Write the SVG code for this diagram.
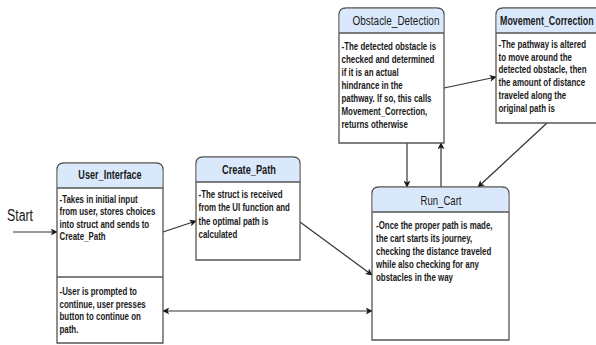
<svg xmlns="http://www.w3.org/2000/svg" width="596" height="345" viewBox="0 0 596 345">
  <defs>
    <marker id="arrow" viewBox="0 0 10 10" refX="9" refY="5" markerWidth="7" markerHeight="7" markerUnits="userSpaceOnUse" orient="auto-start-reverse">
      <path d="M0,0 L10,5 L0,10 L2.5,5 Z" fill="#1a1a1a"/>
    </marker>
  </defs>
  <style>
    .box { fill: #ffffff; stroke: #555555; stroke-width: 1.3; }
    .head { fill: #dae8fc; stroke: none; }
    .rule { stroke: #555555; stroke-width: 1.3; fill: none; }
    .title { font-family: "Liberation Sans", Arial, sans-serif; font-size: 12px; fill: #1a1a1a; text-anchor: middle; }
    .bold { font-weight: bold; }
    .body text { font-family: "Liberation Sans", Arial, sans-serif; font-size: 11px; font-weight: bold; fill: #1a1a1a; }
    .edge { stroke: #333333; stroke-width: 1.2; fill: none; }
    .label { font-family: "Liberation Sans", Arial, sans-serif; font-size: 16px; fill: #1a1a1a; }
  </style>
  <rect width="596" height="345" fill="#ffffff"/>

  <g id="connectors">
    <line class="edge" x1="13" y1="232" x2="57" y2="232" marker-end="url(#arrow)"/>
    <line class="edge" x1="163" y1="232" x2="196" y2="221" marker-end="url(#arrow)"/>
    <line class="edge" x1="300" y1="222" x2="372" y2="275" marker-end="url(#arrow)"/>
    <line class="edge" x1="163" y1="311" x2="372" y2="311" marker-start="url(#arrow)" marker-end="url(#arrow)"/>
    <line class="edge" x1="407" y1="143" x2="407" y2="187" marker-end="url(#arrow)"/>
    <line class="edge" x1="441" y1="187" x2="441" y2="143" marker-end="url(#arrow)"/>
    <line class="edge" x1="444" y1="88" x2="496" y2="77" marker-end="url(#arrow)"/>
    <line class="edge" x1="547" y1="123" x2="478" y2="187" marker-end="url(#arrow)"/>
  </g>

  <text class="label" transform="translate(7,221) scale(0.77,1)">Start</text>

  <g id="user-interface">
    <path class="box" d="M57,343 V170 Q57,163 64,163 H156 Q163,163 163,170 V343 Z"/>
    <path class="head" d="M57.7,188 V170 Q57.7,163.7 64,163.7 H156 Q162.3,163.7 162.3,170 V188 Z"/>
    <line class="rule" x1="57" y1="188" x2="163" y2="188"/>
    <line class="rule" x1="57" y1="277" x2="163" y2="277"/>
    <text class="title bold" transform="translate(110,179) scale(0.76,1)">User_Interface</text>
    <g class="body" transform="translate(59.5,0) scale(0.72,1)">
      <text y="203">-Takes in initial input</text>
      <text y="215.5">from user, stores choices</text>
      <text y="228">into struct and sends to</text>
      <text y="240.5">Create_Path</text>
      <text y="295">-User is prompted to</text>
      <text y="307.7">continue, user presses</text>
      <text y="320.4">button to continue on</text>
      <text y="333">path.</text>
    </g>
  </g>

  <g id="create-path">
    <path class="box" d="M196,260 V164 Q196,157 203,157 H293 Q300,157 300,164 V260 Z"/>
    <path class="head" d="M196.7,182 V164 Q196.7,157.7 203,157.7 H293 Q299.3,157.7 299.3,164 V182 Z"/>
    <line class="rule" x1="196" y1="182" x2="300" y2="182"/>
    <text class="title bold" transform="translate(249,174) scale(0.77,1)">Create_Path</text>
    <g class="body" transform="translate(198.5,0) scale(0.72,1)">
      <text y="198">-The struct is received</text>
      <text y="211.5">from the UI function and</text>
      <text y="225">the optimal path is</text>
      <text y="238">calculated</text>
    </g>
  </g>

  <g id="obstacle-detection">
    <path class="box" d="M339,143 V15 Q339,8 346,8 H437 Q444,8 444,15 V143 Z"/>
    <path class="head" d="M339.7,33 V15 Q339.7,8.7 346,8.7 H437 Q443.3,8.7 443.3,15 V33 Z"/>
    <line class="rule" x1="339" y1="33" x2="444" y2="33"/>
    <text class="title" transform="translate(396,25) scale(0.83,1)">Obstacle_Detection</text>
    <g class="body" transform="translate(341.5,0) scale(0.72,1)">
      <text y="50">-The detected obstacle is</text>
      <text y="63">checked and determined</text>
      <text y="76">if it is an actual</text>
      <text y="89">hindrance in the</text>
      <text y="102">pathway. If so, this calls</text>
      <text y="115">Movement_Correction,</text>
      <text y="128">returns otherwise</text>
    </g>
  </g>

  <g id="movement-correction">
    <path class="box" d="M496,123 V15 Q496,8 503,8 H610 V123 Z"/>
    <path class="head" d="M496.7,33 V15 Q496.7,8.7 503,8.7 H610 V33 Z"/>
    <line class="rule" x1="496" y1="33" x2="610" y2="33"/>
    <text class="title bold" transform="translate(500,25) scale(0.74,1)" style="text-anchor:start">Movement_Correction</text>
    <g class="body" transform="translate(498.5,0) scale(0.72,1)">
      <text y="48.5">-The pathway is altered</text>
      <text y="61">to move around the</text>
      <text y="73.5">detected obstacle, then</text>
      <text y="86">the amount of distance</text>
      <text y="99">traveled along the</text>
      <text y="112">original path is</text>
    </g>
  </g>

  <g id="run-cart">
    <path class="box" d="M372,340 V194 Q372,187 379,187 H502 Q509,187 509,194 V340 Z"/>
    <path class="head" d="M372.7,212 V194 Q372.7,187.7 379,187.7 H502 Q508.3,187.7 508.3,194 V212 Z"/>
    <line class="rule" x1="372" y1="212" x2="509" y2="212"/>
    <text class="title" transform="translate(441,205) scale(0.8,1)">Run_Cart</text>
    <g class="body" transform="translate(376,0) scale(0.72,1)">
      <text y="229">-Once the proper path is made,</text>
      <text y="242">the cart starts its journey,</text>
      <text y="255">checking the distance traveled</text>
      <text y="268">while also checking for any</text>
      <text y="281.5">obstacles in the way</text>
    </g>
  </g>
</svg>
